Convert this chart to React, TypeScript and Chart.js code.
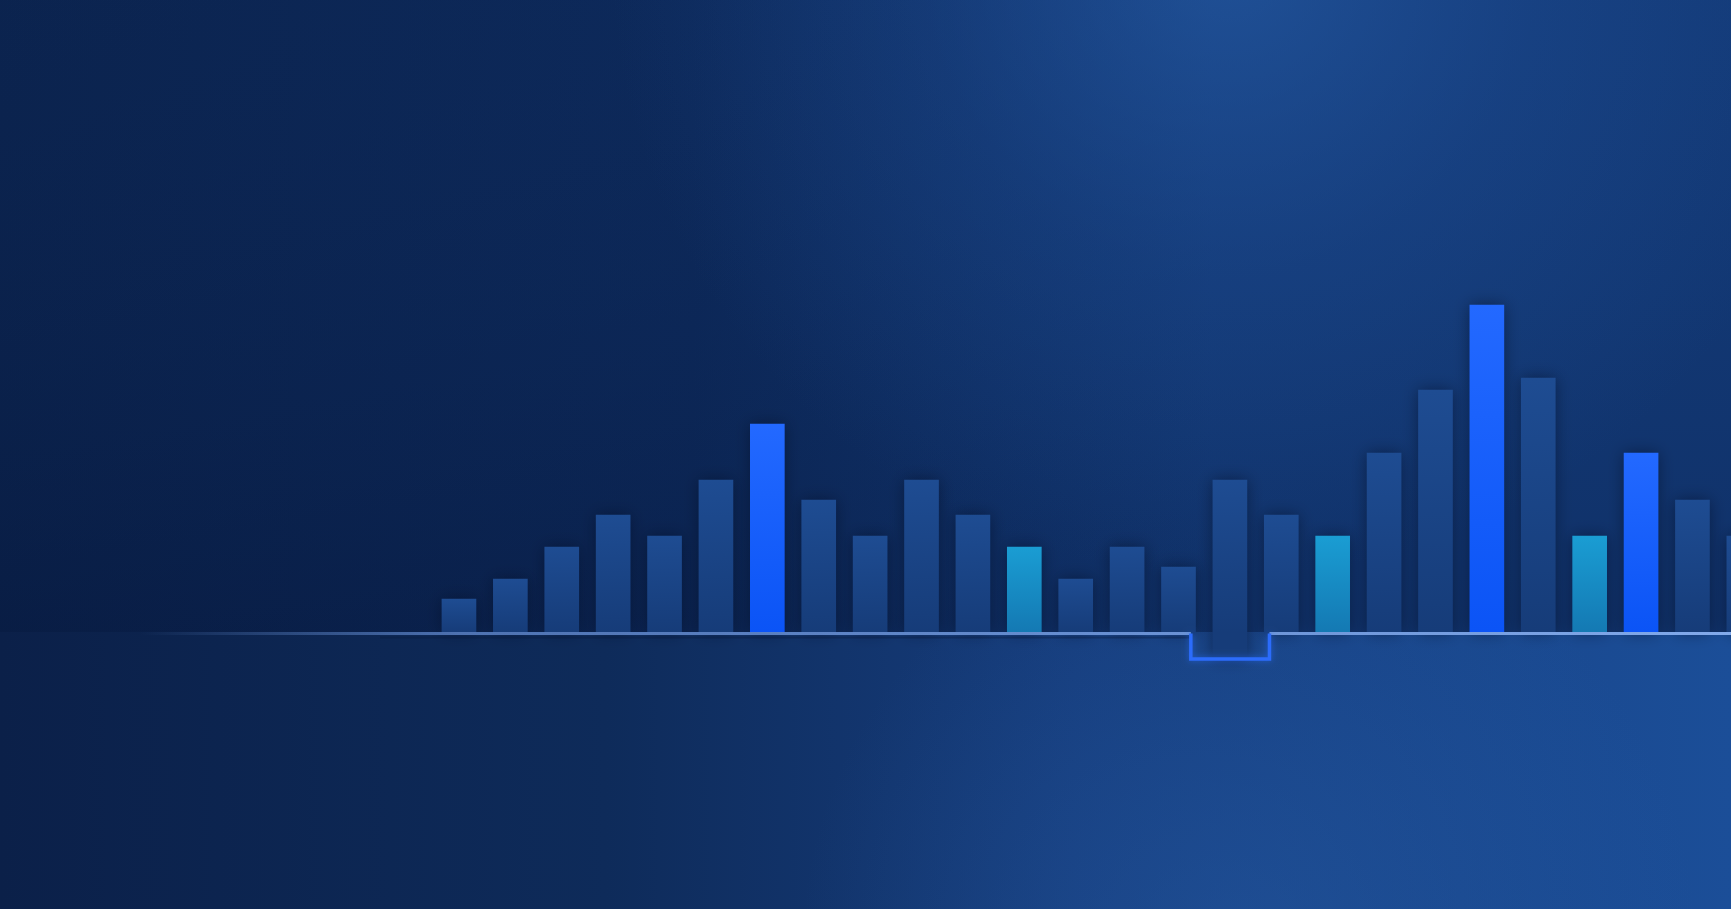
import React, { useEffect, useRef } from "react";
import { Chart, registerables } from "chart.js";

Chart.register(...registerables);

const categories = [
  "1", "2", "3", "4", "5", "6", "7", "8", "9", "10", "11", "12", "13",
  "14", "15", "16", "17", "18", "19", "20", "21", "22", "23", "24", "25", "26",
];
const highs = [33, 53, 85, 117, 96, 152, 208, 132, 96, 152, 117, 85, 53, 85, 65, 152, 117, 96, 179, 242, 327, 254, 96, 179, 132, 96];
const lows = [0, 0, 0, 0, 0, 0, 0, 0, 0, 0, 0, 0, 0, 0, 0, -26, 0, 0, 0, 0, 0, 0, 0, 0, 0, 0];
const kinds = [
  "base", "base", "base", "base", "base", "base", "accent", "base", "base", "base", "base", "cyan", "base",
  "base", "base", "base", "base", "cyan", "base", "base", "accent", "base", "cyan", "accent", "base", "base",
];

const W = 1731;
const H = 909;

const palette: Record<string, [string, string]> = {
  base: ["#1e4c92", "#163c79"],
  accent: ["#2369ff", "#0b54f6"],
  cyan: ["#1a9dd3", "#1479b3"],
};

export default function App() {
  const ref = useRef<HTMLCanvasElement | null>(null);

  useEffect(() => {
    const canvas = ref.current;
    if (!canvas) return;

    const bgPlugin = {
      id: "bg",
      beforeDraw(chart: any) {
        const { ctx } = chart;
        let yb = chart.scales.y.getPixelForValue(0);
        if (!isFinite(yb)) yb = 632;
        ctx.save();
        const g = ctx.createLinearGradient(0, 0, W, 0);
        g.addColorStop(0, "#0a2049");
        g.addColorStop(0.4, "#0c2757");
        g.addColorStop(0.7, "#133a78");
        g.addColorStop(1, "#133a78");
        ctx.fillStyle = g;
        ctx.fillRect(0, 0, W, H);
        const v = ctx.createLinearGradient(0, 0, 0, yb);
        v.addColorStop(0, "rgba(20,60,120,0.12)");
        v.addColorStop(1, "rgba(5,20,55,0.25)");
        ctx.fillStyle = v;
        ctx.fillRect(0, 0, W, yb);
        const r = ctx.createRadialGradient(1230, -40, 0, 1230, -40, 620);
        r.addColorStop(0, "rgba(40,95,170,0.6)");
        r.addColorStop(0.5, "rgba(35,85,160,0.25)");
        r.addColorStop(1, "rgba(35,85,160,0)");
        ctx.fillStyle = r;
        ctx.fillRect(0, 0, W, yb);
        const lg = ctx.createLinearGradient(0, 0, W, 0);
        lg.addColorStop(0, "#0b2049");
        lg.addColorStop(0.35, "#0e2b5a");
        lg.addColorStop(0.62, "#163d7d");
        lg.addColorStop(1, "#1b4e98");
        ctx.fillStyle = lg;
        ctx.fillRect(0, yb, W, H - yb);
        const r2 = ctx.createRadialGradient(1250, H + 40, 0, 1250, H + 40, 450);
        r2.addColorStop(0, "rgba(40,95,170,0.4)");
        r2.addColorStop(1, "rgba(40,95,170,0)");
        ctx.fillStyle = r2;
        ctx.fillRect(0, yb, W, H - yb);
        ctx.restore();
      },
    };

    const barStylePlugin = {
      id: "barStyle",
      beforeDatasetDraw(chart: any, args: any) {
        const { ctx } = chart;
        const meta = args.meta;
        const ys = chart.scales.y;
        const zero = ys.getPixelForValue(0);
        meta.data.forEach((el: any, i: number) => {
          const top = ys.getPixelForValue(highs[i]);
          const bot = Math.min(zero, ys.getPixelForValue(lows[i]));
          if (!isFinite(top) || !isFinite(bot) || !el.options) return;
          const [c1, c2] = palette[kinds[i]];
          const g = ctx.createLinearGradient(0, top, 0, bot);
          g.addColorStop(0, c1);
          g.addColorStop(1, c2);
          el.options.backgroundColor = g;
        });
        ctx.save();
        ctx.shadowColor = "rgba(3,14,40,0.55)";
        ctx.shadowBlur = 16;
      },
      afterDatasetDraw(chart: any) {
        chart.ctx.restore();
      },
    };

    const baselinePlugin = {
      id: "baseline",
      afterDatasetsDraw(chart: any) {
        const { ctx } = chart;
        const xs = chart.scales.x;
        const ys = chart.scales.y;
        const y0 = ys.getPixelForValue(0) + 1.5;
        const yn = ys.getPixelForValue(-27);
        const nx1 = xs.getPixelForValue(15.24);
        const nx2 = xs.getPixelForValue(16.77);
        if (![y0, yn, nx1, nx2].every(isFinite)) return;
        ctx.save();
        const lg = ctx.createLinearGradient(140, 0, W, 0);
        lg.addColorStop(0, "rgba(100,140,205,0)");
        lg.addColorStop(0.2, "rgba(100,140,210,0.75)");
        lg.addColorStop(1, "rgba(130,170,235,1)");
        ctx.strokeStyle = lg;
        ctx.lineWidth = 3;
        ctx.beginPath();
        ctx.moveTo(140, y0);
        ctx.lineTo(nx1, y0);
        ctx.moveTo(nx2, y0);
        ctx.lineTo(W, y0);
        ctx.stroke();
        ctx.strokeStyle = "rgba(10,25,60,0.35)";
        ctx.lineWidth = 2;
        ctx.beginPath();
        ctx.moveTo(380, y0 + 4);
        ctx.lineTo(nx1, y0 + 4);
        ctx.stroke();
        ctx.strokeStyle = "#2c6cfb";
        ctx.lineWidth = 3.5;
        ctx.shadowColor = "rgba(40,110,255,0.6)";
        ctx.shadowBlur = 6;
        ctx.beginPath();
        ctx.moveTo(nx1, y0);
        ctx.lineTo(nx1, yn);
        ctx.lineTo(nx2, yn);
        ctx.lineTo(nx2, y0);
        ctx.stroke();
        ctx.restore();
      },
    };

    const chart = new Chart(canvas, {
      type: "bar",
      data: {
        datasets: [
          {
            label: "values",
            data: categories.map((c, i) => ({ x: i + 1, y: [lows[i], highs[i]] })) as any,
            barThickness: 34,
            borderWidth: 0,
            borderSkipped: false,
            backgroundColor: (ctx: any) => palette[kinds[ctx.dataIndex] || "base"][0],
          },
        ],
      },
      options: {
        animation: false,
        responsive: false,
        devicePixelRatio: 1,
        layout: { padding: 0 },
        plugins: {
          legend: { display: false },
          tooltip: { enabled: false },
        },
        scales: {
          x: {
            type: "linear",
            display: false,
            offset: false,
            bounds: "ticks",
            min: -7.93,
            max: 25.75,
            grid: { display: false },
          },
          y: {
            display: false,
            min: -277,
            max: 632,
            grid: { display: false },
          },
        },
      },
      plugins: [bgPlugin, barStylePlugin, baselinePlugin],
    });

    return () => chart.destroy();
  }, []);

  return (
    <div style={{ position: "fixed", left: 0, top: 0, width: W, height: H, overflow: "hidden" }}>
      <canvas ref={ref} width={W} height={H} style={{ display: "block", width: W, height: H }} />
    </div>
  );
}
